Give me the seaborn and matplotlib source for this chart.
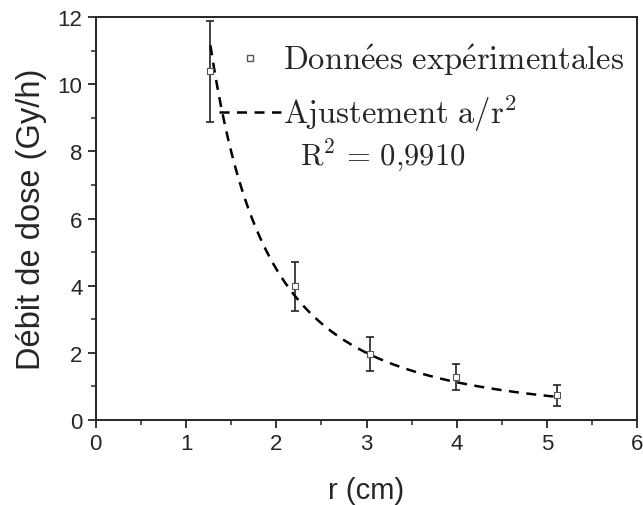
import numpy as np
import pandas as pd
import matplotlib
matplotlib.use("Agg")
import matplotlib.pyplot as plt
import seaborn as sns
from matplotlib.lines import Line2D
from matplotlib.ticker import MultipleLocator

# measured points (distance in cm, dose rate in Gy/h, error bars)
r_cm = [1.27, 2.21, 3.04, 3.99, 5.11]
dose = [10.39, 3.99, 1.96, 1.28, 0.74]
dose_err = [1.50, 0.73, 0.50, 0.38, 0.31]

# fitted model dose = a / r^2 (parameter)
fit_a = 18.0
fit_r_range = (1.27, 5.15)
r2_text = "0{,}9910"

df = pd.DataFrame({"r": r_cm, "dose": dose, "err": dose_err})
r_fit = np.linspace(fit_r_range[0], fit_r_range[1], 300)
fit_df = pd.DataFrame({"r": r_fit, "dose": fit_a / r_fit ** 2})

sns.set_style("ticks")
plt.rcParams["font.family"] = ["Liberation Sans", "DejaVu Sans"]
plt.rcParams["mathtext.fontset"] = "cm"

fig = plt.figure(figsize=(6.43, 5.06), dpi=100)
ax = fig.add_axes([0.149, 0.168, 0.842, 0.796])

ax.errorbar(df["r"], df["dose"], yerr=df["err"], fmt="none", ecolor="#222222",
            elinewidth=1.2, capsize=3, capthick=1.2, zorder=2)
sns.lineplot(data=fit_df, x="r", y="dose", ax=ax, color="black", lw=1.8,
             linestyle=(0, (4, 3)), zorder=3)
sns.scatterplot(data=df, x="r", y="dose", ax=ax, marker="s", s=18,
                facecolor="white", edgecolor="#555555", linewidth=0.8, zorder=4)

ax.set_xlim(0, 6)
ax.set_ylim(0, 12)
ax.xaxis.set_major_locator(MultipleLocator(1))
ax.xaxis.set_minor_locator(MultipleLocator(0.5))
ax.yaxis.set_major_locator(MultipleLocator(2))
ax.yaxis.set_minor_locator(MultipleLocator(1))
ax.tick_params(which="major", direction="out", length=6, width=1.3, labelsize=16)
ax.tick_params(which="minor", direction="out", length=3.5, width=1.1)
for sp in ax.spines.values():
    sp.set_linewidth(1.4)
    sp.set_visible(True)

ax.set_xlabel("r (cm)", fontsize=21, labelpad=16)
ax.set_ylabel("Débit de dose (Gy/h)", fontsize=23.5, labelpad=8)

handles = [
    Line2D([], [], marker="s", markersize=4, markerfacecolor="white",
           markeredgecolor="#555555", linestyle="none"),
    Line2D([], [], color="black", lw=1.8, linestyle=(0, (4, 3))),
]
labels = [r"$\mathrm{Donn\acute{e}es\ exp\acute{e}rimentales}$",
          r"$\mathrm{Ajustement\ a/r^2}$"]
ax.legend(handles, labels, loc="upper right", frameon=False, fontsize=23.5,
          handlelength=1.9, handletextpad=0.05, labelspacing=0.5,
          borderaxespad=0.0, bbox_to_anchor=(1.0, 0.972))
ax.text(0.378, 0.66, r"$\mathrm{R^2\,=\,%s}$" % r2_text, transform=ax.transAxes,
        fontsize=22, ha="left", va="center")

fig.savefig("out.png", dpi=100)
